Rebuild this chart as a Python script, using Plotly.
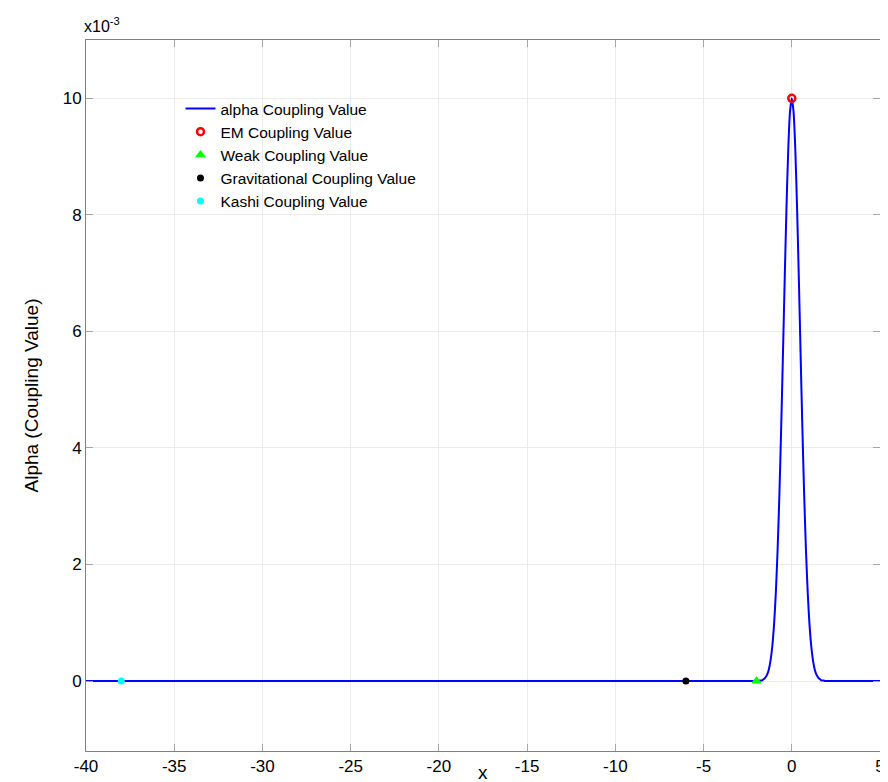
import plotly.graph_objects as go

# Curve samples (y in units of 1e-3)
curve_x = [-40, -2.0, -1.9, -1.8, -1.7, -1.6, -1.5, -1.4, -1.3, -1.2, -1.1, -1.0,
           -0.9, -0.8, -0.7, -0.6, -0.5, -0.4, -0.3, -0.2, -0.1, 0.0,
           0.1, 0.2, 0.3, 0.4, 0.5, 0.6, 0.7, 0.8, 0.9, 1.0,
           1.1, 1.2, 1.3, 1.4, 1.5, 1.6, 1.7, 1.8, 1.9, 2.0, 5]
curve_y_e3 = [0, 0, 0.0, 0.01, 0.01, 0.03, 0.06, 0.11, 0.20, 0.36, 0.61, 0.99,
              1.54, 2.28, 3.22, 4.35, 5.61, 6.91, 8.12, 9.12, 9.77, 10.0,
              9.77, 9.12, 8.12, 6.91, 5.61, 4.35, 3.22, 2.28, 1.54, 0.99,
              0.61, 0.36, 0.20, 0.11, 0.06, 0.03, 0.01, 0.01, 0.0, 0, 0]

em_x, em_y = [0], [0.010]
weak_x, weak_y = [-2], [0.0]
grav_x, grav_y = [-6], [0.0]
kashi_x, kashi_y = [-38], [0.0]

ytick_vals = [0, 0.002, 0.004, 0.006, 0.008, 0.010]
ytick_text = ["0", "2", "4", "6", "8", "10"]
xtick_vals = [-40, -35, -30, -25, -20, -15, -10, -5, 0, 5]
xtick_text = ["-40", "-35", "-30", "-25", "-20", "-15", "-10", "-5", "0", "5"]

curve_y = [v * 1e-3 for v in curve_y_e3]

FONT = "Liberation Sans, Arial, Helvetica"
W, H = 888, 782
ML, MR, MT, MB = 78, 16, 32, 39
PW, PH = W - ML - MR, H - MT - MB

fig = go.Figure()
fig.add_trace(go.Scatter(x=curve_x, y=curve_y, mode="lines", name="alpha Coupling Value",
                         line=dict(color="#0000ff", width=2, shape="spline", smoothing=0.6)))
fig.add_trace(go.Scatter(x=em_x, y=em_y, mode="markers", name="EM Coupling Value",
                         marker=dict(symbol="circle-open", color="#ff0000", size=7,
                                     line=dict(width=2.5, color="#ff0000"))))
fig.add_trace(go.Scatter(x=weak_x, y=weak_y, mode="markers", name="Weak Coupling Value",
                         marker=dict(symbol="triangle-up", color="#00ff00", size=7,
                                     line=dict(width=1.5, color="#00ff00"))))
fig.add_trace(go.Scatter(x=grav_x, y=grav_y, mode="markers", name="Gravitational Coupling Value",
                         marker=dict(symbol="circle", color="#000000", size=7)))
fig.add_trace(go.Scatter(x=kashi_x, y=kashi_y, mode="markers", name="Kashi Coupling Value",
                         marker=dict(symbol="circle", color="#00ffff", size=7)))

axis_common = dict(showline=True, linecolor="#808080", linewidth=1, mirror="ticks",
                   ticks="inside", ticklen=7, tickcolor="#a6a6a6",
                   showgrid=True, gridcolor="#ebebeb", zeroline=False, automargin=False,
                   tickfont=dict(family=FONT, size=17, color="#000"))

fig.update_layout(
    width=W, height=H,
    margin=dict(l=ML, r=MR, t=MT, b=MB),
    paper_bgcolor="white", plot_bgcolor="white",
    font=dict(family=FONT, color="#000"),
    xaxis=dict(range=[-40, 5], tickvals=xtick_vals, ticktext=xtick_text, **axis_common),
    yaxis=dict(range=[-0.0012, 0.011], tickvals=ytick_vals, ticktext=ytick_text, **axis_common),
    legend=dict(x=0.119, y=0.927, xanchor="left", yanchor="top",
                bgcolor="rgba(255,255,255,0)", borderwidth=0,
                font=dict(size=15.5, family=FONT),
                tracegroupgap=0, itemwidth=30),
    showlegend=True,
)
# exponent label above the y axis
fig.add_annotation(text="x10<sup>-3</sup>", xref="paper", yref="paper", x=0, y=1,
                   xanchor="left", yanchor="bottom", showarrow=False, yshift=3, xshift=-4,
                   font=dict(size=16, family=FONT))
# y axis title
fig.add_annotation(text="Alpha (Coupling Value)", xref="paper", yref="paper",
                   x=(23 - ML) / PW, y=0.5, xanchor="center", yanchor="middle",
                   textangle=-90, showarrow=False, font=dict(size=19, family=FONT))
# x axis title (centred under the axes)
fig.add_annotation(text="x", xref="paper", yref="paper",
                   x=0.5, y=-(765 - (H - MB)) / PH, xanchor="center", yanchor="middle",
                   showarrow=False, font=dict(size=19, family=FONT))

fig.write_html("out.html")
